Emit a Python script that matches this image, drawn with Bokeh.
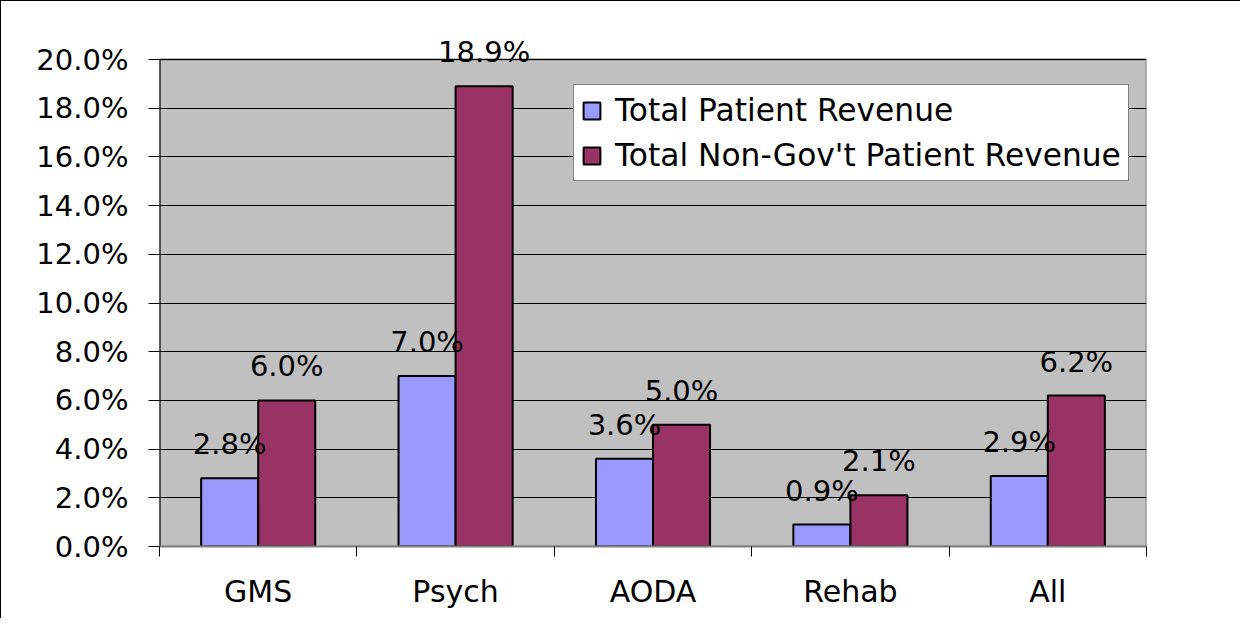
from bokeh.plotting import figure
from bokeh.models import (ColumnDataSource, FixedTicker, NumeralTickFormatter, Range1d,
                          Legend, LegendItem, Label)
from bokeh.embed import file_html
from bokeh.resources import INLINE

categories = ["GMS", "Psych", "AODA", "Rehab", "All"]
total_patient = [2.8, 7.0, 3.6, 0.9, 2.9]
total_non_gov = [6.0, 18.9, 5.0, 2.1, 6.2]
y_ticks = [0, 2, 4, 6, 8, 10, 12, 14, 16, 18, 20]
series_names = ["Total Patient Revenue", "Total Non-Gov't Patient Revenue"]

FONT = "DejaVu Sans"
FS = "29px"
BLUE = "#9999FF"
MAROON = "#993366"
AREA = "#C0C0C0"

W, H = 1240, 618
B_LEFT, B_RIGHT, B_TOP, B_BOTTOM = 158, 95, 19, 73
AREA_H = 487            # pixel height of the grey plot area (0% .. 20%)
FRAME_H = H - B_TOP - B_BOTTOM
y_max = y_ticks[-1] / 100
y_end = y_max * FRAME_H / AREA_H   # headroom above the grey area for the labels

centers = [i + 0.5 for i in range(len(categories))]
boundaries = [float(i) for i in range(len(categories) + 1)]
OFF = 0.1445
BW = 0.289

src1 = ColumnDataSource(dict(
    x=[c - OFF for c in centers],
    top=[v / 100 for v in total_patient],
    label=[f"{v:.1f}%" for v in total_patient]))
src2 = ColumnDataSource(dict(
    x=[c + OFF for c in centers],
    top=[v / 100 for v in total_non_gov],
    label=[f"{v:.1f}%" for v in total_non_gov]))

p = figure(width=W, height=H, x_range=Range1d(0, len(categories)),
           y_range=Range1d(0, y_end),
           output_backend="svg", toolbar_location=None,
           min_border_left=B_LEFT, min_border_top=B_TOP,
           min_border_right=B_RIGHT, min_border_bottom=B_BOTTOM)
p.styles = {"border-left": "1px solid black", "border-top": "1px solid black"}
p.background_fill_color = "white"
p.border_fill_color = "white"
p.outline_line_color = None

# grey plot area 0 .. 20 %
p.quad(left=0, right=len(categories), bottom=0, top=y_max,
       fill_color=AREA, line_color="#808080", line_width=2, level="image")

p.xgrid.visible = False
p.ygrid.ticker = FixedTicker(ticks=[t / 100 for t in y_ticks])
p.ygrid.grid_line_color = "black"
p.ygrid.grid_line_width = 1

# value axis line only over the grey area
p.segment(x0=0, y0=0, x1=0, y1=y_max, line_color="black", line_width=2)

r1 = p.vbar(x="x", top="top", bottom=0, width=BW, source=src1,
            fill_color=BLUE, line_color="black", line_width=2)
r2 = p.vbar(x="x", top="top", bottom=0, width=BW, source=src2,
            fill_color=MAROON, line_color="black", line_width=2)

# y axis
ya = p.yaxis[0]
ya.ticker = FixedTicker(ticks=[t / 100 for t in y_ticks], minor_ticks=[])
ya.formatter = NumeralTickFormatter(format="0.0%")
ya.major_tick_out = 11
ya.major_tick_in = 0
ya.minor_tick_line_color = None
ya.axis_line_color = None
ya.major_tick_line_color = "black"
ya.major_label_standoff = 20
ya.major_label_text_font = FONT
ya.major_label_text_font_size = FS
ya.major_label_text_color = "black"

# x axis
xa = p.xaxis[0]
xa.ticker = FixedTicker(ticks=centers, minor_ticks=boundaries)
xa.major_label_overrides = {c: cat for c, cat in zip(centers, categories)}
xa.major_tick_out = 0
xa.major_tick_in = 0
xa.major_tick_line_color = None
xa.minor_tick_out = 10
xa.minor_tick_in = 0
xa.minor_tick_line_color = "black"
xa.axis_line_color = "#808080"
xa.axis_line_width = 2
xa.major_label_standoff = 17
xa.major_label_text_font = FONT
xa.major_label_text_font_size = "30px"
xa.major_label_text_color = "black"

for src in (src1, src2):
    d = src.data
    for x, top, lab in zip(d["x"], d["top"], d["label"]):
        p.add_layout(Label(x=x, y=top, text=lab, y_offset=34,
                           text_align="center", text_baseline="alphabetic",
                           text_font=FONT, text_font_size=FS, text_color="black"))

legend = Legend(items=[LegendItem(label=series_names[0], renderers=[r1]),
                       LegendItem(label=series_names[1], renderers=[r2])],
                location=(414, 365))
legend.border_line_color = "black"
legend.border_line_width = 1
legend.background_fill_color = "white"
legend.background_fill_alpha = 1
legend.label_text_font = FONT
legend.label_text_font_size = "31.3px"
legend.label_text_color = "black"
legend.glyph_width = 21
legend.glyph_height = 21
legend.label_standoff = 13
legend.padding = 7
legend.spacing = 9
legend.margin = 0
p.add_layout(legend)

open("out.html", "w").write(file_html(p, INLINE))
